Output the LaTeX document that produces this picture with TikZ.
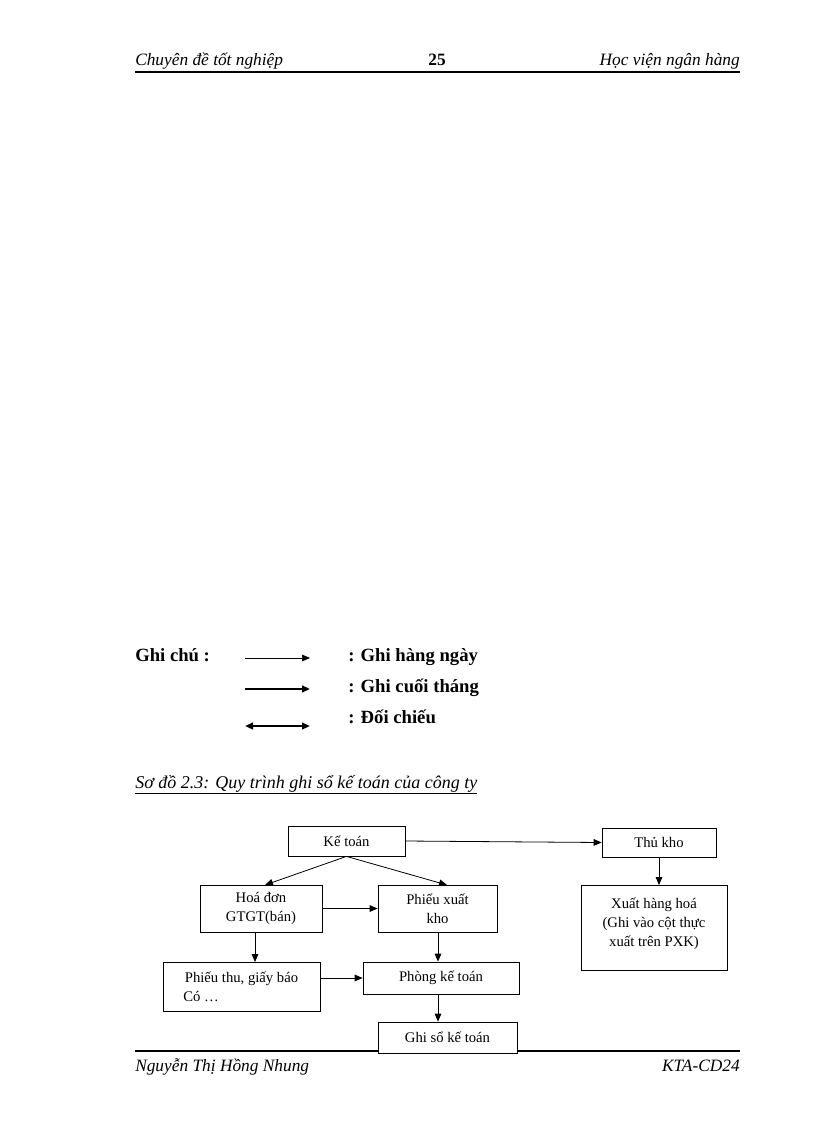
\documentclass[tikz,border=0pt]{standalone}
\usepackage{fontspec}
\setmainfont{Liberation Serif}
\usetikzlibrary{arrows.meta}
\begin{document}
\begin{tikzpicture}[x=0.75pt,y=-0.75pt,
 box/.style={draw,semithick,align=center,inner sep=0pt,font=\fontsize{11}{14.5}\selectfont},
 arr/.style={-{Triangle[length=6pt,width=5pt]},semithick},
 hdr/.style={font=\fontsize{13}{15}\selectfont\itshape,inner sep=0pt},
 leg/.style={font=\fontsize{14}{16}\selectfont\bfseries,anchor=base west,inner sep=0pt}]
\useasboundingbox (0,0) rectangle (816,1123);
% header
\node[hdr,anchor=base west] (h1) at (135,66) {Chuyên đề tốt nghiệp};
\node[font=\fontsize{13}{15}\selectfont\bfseries,inner sep=0pt,anchor=base] (h2) at (437,66) {25};
\node[hdr,anchor=base east] (h3) at (740,66) {Học viện ngân hàng};
\draw[line width=1.2pt] (135,72) -- (740,72);
% legend
\node[leg] (gc) at (135,661) {Ghi chú :};
\coordinate (l1a) at (245,658); \coordinate (l1b) at (310,658);
\coordinate (l2a) at (245,689); \coordinate (l2b) at (310,689);
\coordinate (l3a) at (245,726); \coordinate (l3b) at (310,726);
\draw[-{Triangle[length=6pt,width=5pt]},thin] (l1a) -- (l1b);
\draw[-{Triangle[length=6pt,width=5pt]},line width=1.5pt] (l2a) -- (l2b);
\draw[{Triangle[length=6pt,width=5pt]}-{Triangle[length=6pt,width=5pt]},line width=1.5pt] (l3a) -- (l3b);
\node[leg] (t1) at (348,661) {: Ghi hàng ngày};
\node[leg] (t2) at (348,692) {: Ghi cuối tháng};
\node[leg] (t3) at (348,723) {: Đối chiếu};
\node[hdr,anchor=base west,font=\fontsize{13.5}{15}\selectfont\itshape] (cap) at (135,788) {\underline{Sơ đồ 2.3: Quy trình ghi sổ kế toán của công ty}};
% boxes
\node[box,minimum width=117*0.75pt,minimum height=30*0.75pt] (kt) at (346.5,841) {Kế toán};
\node[box,minimum width=114*0.75pt,minimum height=29*0.75pt] (tk) at (659,842.5) {Thủ kho};
\node[box,minimum width=122*0.75pt,minimum height=47*0.75pt] (hd) at (261,908.5) {Hoá đơn\\GTGT(bán)};
\node[box,minimum width=119*0.75pt,minimum height=47*0.75pt] (px) at (437.5,908.5) {Phiếu xuất\\kho};
\node[box,minimum width=146*0.75pt,minimum height=85*0.75pt,anchor=north] (xh) at (654,885) {\\[-13pt]Xuất hàng hoá\\(Ghi vào cột thực\\xuất trên PXK)};
\node[box,minimum width=157*0.75pt,minimum height=49*0.75pt] (pt) at (241.5,986.5) {Phiếu thu, giấy báo\\Có …\hspace*{5.5em}};
\node[box,minimum width=156*0.75pt,minimum height=32*0.75pt] (pk) at (441,978) {Phòng kế toán};
\node[box,minimum width=139*0.75pt,minimum height=31*0.75pt,fill=white] (gs) at (447.5,1037.5) {Ghi sổ kế toán};
% connectors
\coordinate (hdin) at (265,885);
\coordinate (pxin) at (447,885);
\draw[arr] (kt.east) -- (tk.west);
\draw[arr] (kt.south) -- (hdin);
\draw[arr] (kt.south) -- (pxin);
\draw[arr] (tk.south) -- (tk.south |- xh.north);
\draw[arr] (hd.east) -- (px.west);
\draw[arr] (hd.south -| 255,932) -- (255,962);
\draw[arr] (px.south -| 438,932) -- (pk.north -| 438,962);
\draw[arr] (pt.east |- pk.west) -- (pk.west);
\draw[arr] (pk.south -| 438,994) -- (gs.north -| 438,1022);
% footer
\draw[line width=1.3pt] (135,1051) -- (378,1051);
\draw[line width=1.3pt] (517,1051) -- (740,1051);
\node[hdr,anchor=base west] (f1) at (135,1071) {Nguyễn Thị Hồng Nhung};
\node[hdr,anchor=base east] (f2) at (740,1071) {KTA-CD24};
\end{tikzpicture}
\end{document}
